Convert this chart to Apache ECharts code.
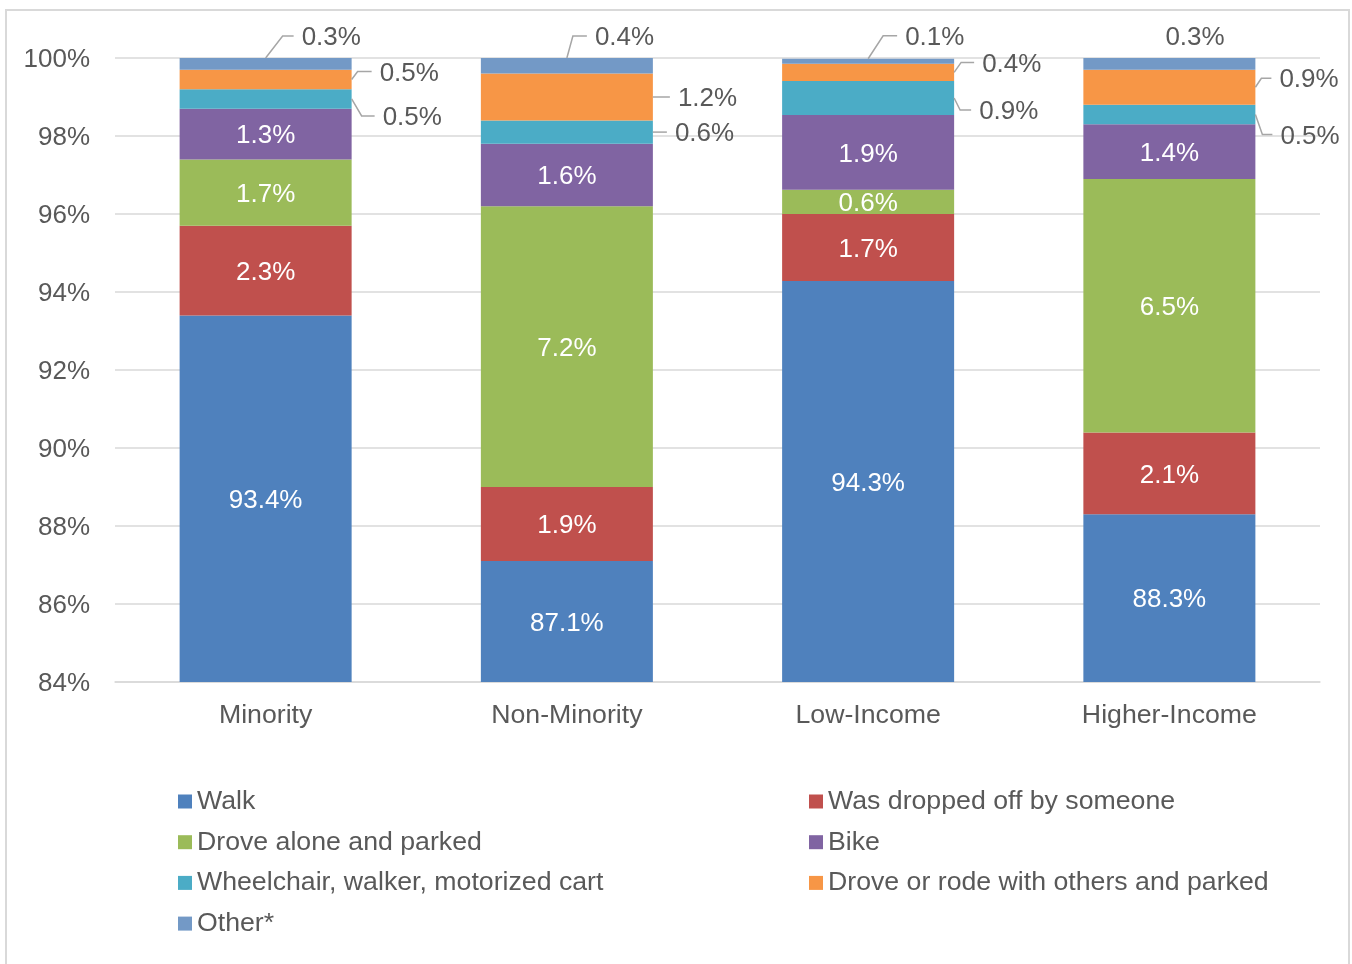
<!DOCTYPE html>
<html>
<head>
<meta charset="utf-8">
<script src="https://cdn.jsdelivr.net/npm/echarts@6/dist/echarts.min.js"></script>
<style>
  html, body { margin: 0; padding: 0; background: #fff; }
  #chart { width: 1352px; height: 964px; }
</style>
</head>
<body>
<div id="chart"></div>
<script>
var categories = ['Minority', 'Non-Minority', 'Low-Income', 'Higher-Income'];
var seriesNames = [
  'Walk',
  'Was dropped off by someone',
  'Drove alone and parked',
  'Bike',
  'Wheelchair, walker, motorized cart',
  'Drove or rode with others and parked',
  'Other*'
];
var walk = [93.4, 87.1, 94.28, 88.3];
var droppedOff = [2.3, 1.9, 1.72, 2.1];
var droveAlone = [1.7, 7.2, 0.62, 6.5];
var bike = [1.3, 1.6, 1.92, 1.4];
var wheelchair = [0.5, 0.6, 0.87, 0.5];
var droveOthers = [0.5, 1.2, 0.44, 0.9];
var other = [0.3, 0.4, 0.13, 0.3];
var yMin = 84, yMax = 100, yStep = 2;

var colors = ['#4F81BD', '#C0504D', '#9BBB59', '#8064A2', '#4BACC6', '#F79646', '#7399C6'];
var font = "'Liberation Sans', Arial, sans-serif";
var textGrey = '#595959';
var barRatio = 0.571;

// label placement for the thin top segments (px from the anchor point)
// anchor 'side' = right edge, middle of segment; 'top' = bar centre, top of segment
// tx/ty = text start, ex = elbow of the leader line (null = no line)
var wheelchairPos = [
  { anchor: 'side', tx: 31, ty: 17, ex: 10 },
  { anchor: 'side', tx: 22, ty: 0, ex: 0 },
  { anchor: 'side', tx: 25, ty: 12, ex: 6 },
  { anchor: 'side', tx: 25, ty: 20, ex: 7 }
];
var droveOthersPos = [
  { anchor: 'side', tx: 28, ty: -8, ex: 6 },
  { anchor: 'side', tx: 25, ty: 0, ex: 0 },
  { anchor: 'side', tx: 28, ty: -10, ex: 7 },
  { anchor: 'side', tx: 24, ty: -9, ex: 6 }
];
var otherPos = [
  { anchor: 'top', tx: 36, ty: -22, ex: 17 },
  { anchor: 'top', tx: 28, ty: -22, ex: 6 },
  { anchor: 'top', tx: 37, ty: -23, ex: 15 },
  { anchor: 'top', tx: -4, ty: -22, ex: null }
];

function init() {
  var element = document.getElementById('chart');
  var instance = echarts.init(element);

  var values = [walk, droppedOff, droveAlone, bike, wheelchair, droveOthers, other];

  // segments drawn with outside labels
  var outside = [];
  var outsideMeta = [];
  var outsideSets = [[4, wheelchairPos], [5, droveOthersPos], [6, otherPos]];
  for (var c = 0; c < categories.length; c++) {
    for (var k = 0; k < outsideSets.length; k++) {
      var s = outsideSets[k][0];
      var bottom = 0;
      for (var j = 0; j < s; j++) bottom += values[j][c];
      outside.push([c, bottom, bottom + values[s][c]]);
      outsideMeta.push({ text: values[s][c].toFixed(1) + '%', pos: outsideSets[k][1][c] });
    }
  }

  var series = seriesNames.map(function (name, i) {
    return {
      name: name,
      type: 'bar',
      stack: 'all',
      barWidth: (barRatio * 100) + '%',
      itemStyle: { color: colors[i] },
      label: {
        show: i < 4,
        position: 'inside',
        offset: [0, 2],
        color: '#fff',
        fontSize: 26,
        fontFamily: font,
        formatter: function (p) { return p.value.toFixed(1) + '%'; }
      },
      emphasis: { disabled: true },
      data: values[i]
    };
  });

  series.push({
    type: 'custom',
    name: 'outside labels',
    z: 5,
    silent: true,
    encode: { x: 0, y: [1, 2] },
    data: outside,
    renderItem: function (params, api) {
      var meta = outsideMeta[params.dataIndex];
      var pos = meta.pos;
      var cTop = api.coord([api.value(0), api.value(2)]);
      var cBot = api.coord([api.value(0), api.value(1)]);
      var halfW = api.size([1, 0])[0] * barRatio / 2;
      var ax, ay;
      if (pos.anchor === 'top') {
        ax = cTop[0];
        ay = cTop[1];
      } else {
        ax = cTop[0] + halfW;
        ay = (cTop[1] + cBot[1]) / 2;
      }
      var tx = ax + pos.tx;
      var ty = ay + pos.ty;
      var children = [{
        type: 'text',
        style: {
          x: tx, y: ty + 2, text: meta.text,
          fill: textGrey, fontSize: 26, fontFamily: font,
          align: 'left', verticalAlign: 'middle'
        }
      }];
      if (pos.ex !== null) {
        children.push({
          type: 'polyline',
          shape: { points: [[ax, ay], [ax + pos.ex, ty], [tx - 8, ty]] },
          style: { stroke: '#a6a6a6', lineWidth: 1.5, fill: null }
        });
      }
      return { type: 'group', children: children };
    }
  });

  var legendText = { color: textGrey, fontSize: 26.7, fontFamily: font };

  var option = {
    animation: false,
    textStyle: { fontFamily: font },
    graphic: [{
      type: 'rect',
      silent: true,
      shape: { x: 6, y: 10, width: 1343, height: 990 },
      style: { fill: null, stroke: '#d9d9d9', lineWidth: 2 }
    }],
    grid: { left: 115, right: 32, top: 58, bottom: 282 },
    legend: [
      {
        orient: 'vertical', left: 178, top: 788, padding: 0,
        itemWidth: 14, itemHeight: 14, itemGap: 13.7, icon: 'rect',
        selectedMode: false, textStyle: legendText,
        data: [seriesNames[0], seriesNames[2], seriesNames[4], seriesNames[6]]
      },
      {
        orient: 'vertical', left: 809, top: 788, padding: 0,
        itemWidth: 14, itemHeight: 14, itemGap: 13.7, icon: 'rect',
        selectedMode: false, textStyle: legendText,
        data: [seriesNames[1], seriesNames[3], seriesNames[5]]
      }
    ],
    xAxis: {
      type: 'category',
      data: categories,
      axisTick: { show: false },
      axisLine: { lineStyle: { color: '#d9d9d9', width: 1.5 } },
      axisLabel: { color: textGrey, fontSize: 26.7, fontFamily: font, margin: 20 }
    },
    yAxis: {
      type: 'value',
      min: yMin,
      max: yMax,
      interval: yStep,
      axisLine: { show: false },
      axisTick: { show: false },
      splitLine: { lineStyle: { color: '#d9d9d9', width: 1.5 } },
      axisLabel: {
        color: textGrey, fontSize: 26, fontFamily: font, margin: 25,
        lineHeight: 34, verticalAlign: 'top',
        padding: [-15, 0, 0, 0],
        formatter: '{value}%'
      }
    },
    series: series
  };
  instance.setOption(option);

  window.onresize = function () {
    instance.resize();
  };
}
init();
</script>
</body>
</html>
